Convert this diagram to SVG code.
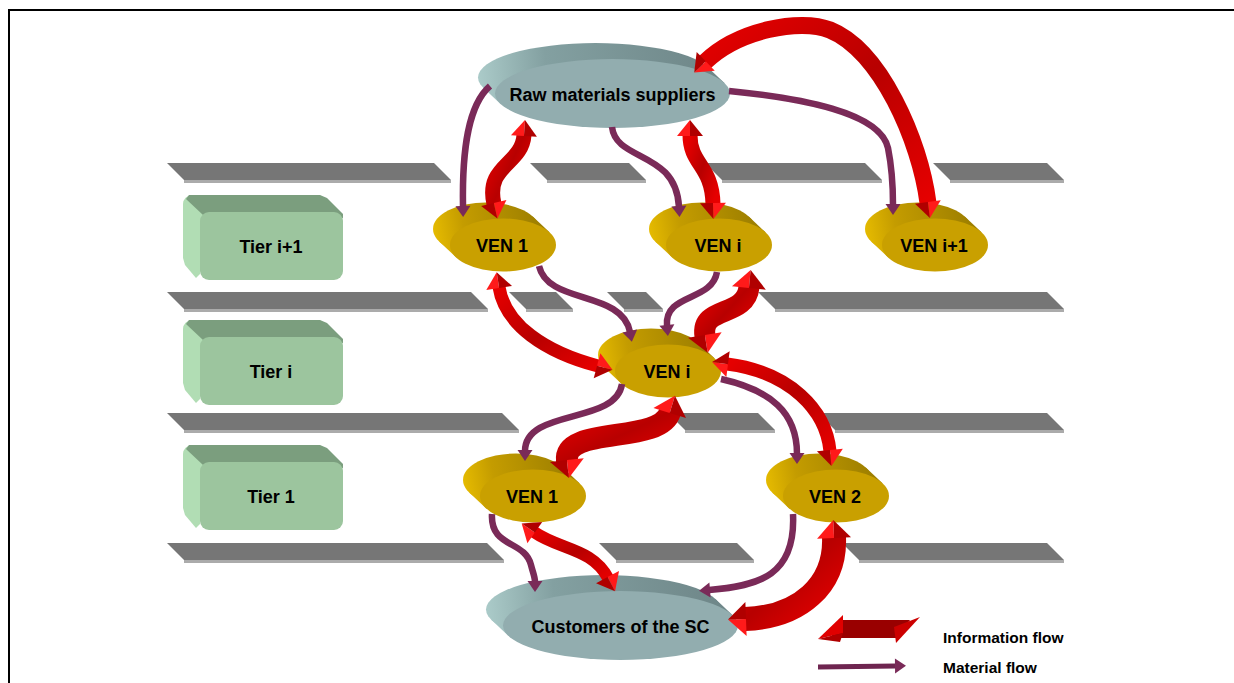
<svg xmlns="http://www.w3.org/2000/svg" xmlns:xlink="http://www.w3.org/1999/xlink" width="1234" height="683" viewBox="0 0 1234 683">
<style>
  .lbl { font-family: "Liberation Sans", Arial, sans-serif; font-weight: bold; font-size: 18px; fill: #000; text-anchor: middle; }
  .leg { font-family: "Liberation Sans", Arial, sans-serif; font-weight: bold; font-size: 15.5px; fill: #000; }
  .bar { fill: #767676; }
  .barEdge { fill: #ababab; }
  .info { fill: none; stroke: url(#redRib); stroke-linecap: butt; marker-start: url(#rh); marker-end: url(#rh); }
  .infoBig { fill: none; stroke: url(#redRib); stroke-linecap: butt; marker-start: url(#rhBig); marker-end: url(#rhBig); }
  .mat { fill: none; stroke: #7a2a58; stroke-width: 6.5; stroke-linecap: butt; marker-end: url(#ph); }
</style>
<defs>
  <linearGradient id="redRib" x1="0" y1="0" x2="1" y2="1">
    <stop offset="0" stop-color="#e60000"/>
    <stop offset="0.5" stop-color="#b80000"/>
    <stop offset="1" stop-color="#e60000"/>
  </linearGradient>
  <linearGradient id="venSide" gradientUnits="userSpaceOnUse" x1="-70" y1="0" x2="40" y2="-20">
    <stop offset="0" stop-color="#e8bd00"/>
    <stop offset="0.3" stop-color="#c49c00"/>
    <stop offset="1" stop-color="#9c7e00"/>
  </linearGradient>
  <linearGradient id="ovalSide" gradientUnits="userSpaceOnUse" x1="-135" y1="0" x2="100" y2="-20">
    <stop offset="0" stop-color="#acccca"/>
    <stop offset="0.3" stop-color="#83a0a1"/>
    <stop offset="1" stop-color="#6f8789"/>
  </linearGradient>
  <marker id="rh" markerUnits="userSpaceOnUse" viewBox="0 0 16 26" markerWidth="16" markerHeight="26" refX="1" refY="13" orient="auto-start-reverse" overflow="visible">
    <path d="M0,0 L16,13 L0,13 Z" fill="#ff1a1a"/>
    <path d="M0,13 L16,13 L0,26 Z" fill="#b00000"/>
  </marker>
  <marker id="rhBig" markerUnits="userSpaceOnUse" viewBox="0 0 18 34" markerWidth="18" markerHeight="34" refX="1" refY="17" orient="auto-start-reverse" overflow="visible">
    <path d="M0,0 L18,17 L0,17 Z" fill="#ff1a1a"/>
    <path d="M0,17 L18,17 L0,34 Z" fill="#b00000"/>
  </marker>
  <marker id="ph" markerUnits="userSpaceOnUse" viewBox="0 0 11 15" markerWidth="11" markerHeight="15" refX="1" refY="7.5" orient="auto" overflow="visible">
    <path d="M0,0 L11,7.5 L0,15 Z" fill="#7a2a58"/>
  </marker>
  <g id="venShape">
    <ellipse cx="-17" cy="-16" rx="53" ry="26.5" fill="url(#venSide)"/>
    <polygon points="46.8,-12.4 29.8,-28.4 -63.8,-3.6 -46.8,12.4" fill="url(#venSide)"/>
    <ellipse cx="0" cy="0" rx="53" ry="26.5" fill="#c9a000"/>
  </g>
  <g id="ovalShape">
    <ellipse cx="-17" cy="-16" rx="117.5" ry="34.5" fill="url(#ovalSide)"/>
    <polygon points="112.2,-10.3 95.2,-26.3 -129.2,-5.7 -112.2,10.3" fill="url(#ovalSide)"/>
    <ellipse cx="0" cy="0" rx="117.5" ry="34.5" fill="#92adaf"/>
  </g>
  <g id="tierShape">
    <rect x="-17" y="-17" width="143" height="68" rx="9" fill="#b1ddb4"/>
    <polygon points="-11,-17 120,-17 127,-14 143,2 143,6 3,3 -14,-13" fill="#7b9e7e"/>
    <polygon points="-17,-8 0,9 0,62 -4,66 -15,53 -17,46" fill="#b1ddb4"/>
    <rect x="0" y="0" width="143" height="68" rx="9" fill="#9cc59e"/>
  </g>
</defs>

<rect x="0" y="0" width="1234" height="683" fill="#fff"/>
<path d="M9,683 V10 H1234" fill="none" stroke="#000" stroke-width="2"/>

<g id="bars">
  <polygon class="bar" points="167,163 434,163 451,180 184,180"/><rect class="barEdge" x="184" y="180" width="267" height="3"/>
  <polygon class="bar" points="530,163 629,163 646,180 547,180"/><rect class="barEdge" x="547" y="180" width="99" height="3"/>
  <polygon class="bar" points="705,163 865,163 882,180 722,180"/><rect class="barEdge" x="722" y="180" width="160" height="3"/>
  <polygon class="bar" points="933,163 1047,163 1064,180 950,180"/><rect class="barEdge" x="950" y="180" width="114" height="3"/>
  <polygon class="bar" points="167,292 471,292 488,309 184,309"/><rect class="barEdge" x="184" y="309" width="304" height="3"/>
  <polygon class="bar" points="509,292 556,292 573,309 526,309"/><rect class="barEdge" x="526" y="309" width="47" height="3"/>
  <polygon class="bar" points="607,292 646,292 663,309 624,309"/><rect class="barEdge" x="624" y="309" width="39" height="3"/>
  <polygon class="bar" points="758,292 1047,292 1064,309 775,309"/><rect class="barEdge" x="775" y="309" width="289" height="3"/>
  <polygon class="bar" points="167,413 502,413 519,430 184,430"/><rect class="barEdge" x="184" y="430" width="335" height="3"/>
  <polygon class="bar" points="668,413 758,413 775,430 685,430"/><rect class="barEdge" x="685" y="430" width="90" height="3"/>
  <polygon class="bar" points="818,413 1047,413 1064,430 835,430"/><rect class="barEdge" x="835" y="430" width="229" height="3"/>
  <polygon class="bar" points="167,543 487,543 504,560 184,560"/><rect class="barEdge" x="184" y="560" width="320" height="3"/>
  <polygon class="bar" points="599,543 737,543 754,560 616,560"/><rect class="barEdge" x="616" y="560" width="138" height="3"/>
  <polygon class="bar" points="842,543 1047,543 1064,560 859,560"/><rect class="barEdge" x="859" y="560" width="205" height="3"/>
</g>

<g id="tier-ip1" transform="translate(200,212)"><use xlink:href="#tierShape"/><text class="lbl" x="71" y="41">Tier i+1</text></g>
<g id="tier-i" transform="translate(200,337)"><use xlink:href="#tierShape"/><text class="lbl" x="71" y="41">Tier i</text></g>
<g id="tier-1" transform="translate(200,462)"><use xlink:href="#tierShape"/><text class="lbl" x="71" y="41">Tier 1</text></g>

<g id="raw" transform="translate(612.5,93.5)"><use xlink:href="#ovalShape"/><text class="lbl" x="0" y="7.5">Raw materials suppliers</text></g>
<g id="customers" transform="translate(620.5,625.5)"><use xlink:href="#ovalShape"/><text class="lbl" x="0" y="7">Customers of the SC</text></g>

<g id="ven1-top" transform="translate(503,245)"><use xlink:href="#venShape"/><text class="lbl" x="-1" y="7">VEN 1</text></g>
<g id="veni-top" transform="translate(719,245)"><use xlink:href="#venShape"/><text class="lbl" x="-1" y="7">VEN i</text></g>
<g id="venip1-top" transform="translate(935,245)"><use xlink:href="#venShape"/><text class="lbl" x="-1" y="7">VEN i+1</text></g>
<g id="veni-mid" transform="translate(668,371)"><use xlink:href="#venShape"/><text class="lbl" x="-1" y="7">VEN i</text></g>
<g id="ven1-bot" transform="translate(533,496)"><use xlink:href="#venShape"/><text class="lbl" x="-1" y="7">VEN 1</text></g>
<g id="ven2-bot" transform="translate(836,496)"><use xlink:href="#venShape"/><text class="lbl" x="-1" y="7">VEN 2</text></g>

<g id="connectors">
  <path class="info" stroke-width="15" d="M524,135 C522,165 485,165 494,204"/>
  <path class="info" stroke-width="15" d="M690,135 C690,165 712,165 713,204"/>
  <path class="info" stroke-width="17" d="M705,62 C738,30 800,18 830,30 C880,50 920,140 928,203"/>
  <path class="info" stroke-width="13" d="M499,287 C505,325 545,352 598,366"/>
  <path class="infoBig" stroke-width="21" d="M749,287 C746,318 700,305 705,336"/>
  <path class="infoBig" stroke-width="22" d="M670,412 C660,445 563,425 567,461"/>
  <path class="info" stroke-width="13" d="M727,364 C790,372 826,410 830,451"/>
  <path class="info" stroke-width="12" d="M534,532 C560,550 592,548 608,578"/>
  <path class="infoBig" stroke-width="24" d="M834,537 C836,585 800,617 745,619"/>
  <path class="mat" d="M490,86 C468,105 462,150 463,207"/>
  <path class="mat" d="M612,127 C616,162 676,150 679,207"/>
  <path class="mat" d="M729,91 C800,98 880,112 888,148 C892,168 893,185 893,205"/>
  <path class="mat" d="M539,266 C548,305 622,290 630,332"/>
  <path class="mat" d="M717,272 C712,302 664,293 667,326"/>
  <path class="mat" d="M622,384 C616,425 525,408 525,451"/>
  <path class="mat" d="M721,379 C770,390 797,412 797,454"/>
  <path class="mat" d="M492,514 C490,548 525,540 531,565 C533,573 535,577 535,582"/>
  <path class="mat" d="M793,514 C796,575 760,586 709,590"/>
</g>

<g id="legend">
  <polygon points="842,620 910,620 896,638 830,638" fill="#990000"/>
  <polygon points="818,639 843,615 843,633" fill="#e00000"/>
  <polygon points="818,639 843,633 840,642" fill="#b00000"/>
  <polygon points="894,627 920,617 896,643" fill="#cc0000"/>
  <path d="M818,667 L896,666" fill="none" stroke="#6e2550" stroke-width="5" marker-end="url(#ph)"/>
  <text class="leg" x="943" y="643">Information flow</text>
  <text class="leg" x="943" y="673">Material flow</text>
</g>
</svg>
